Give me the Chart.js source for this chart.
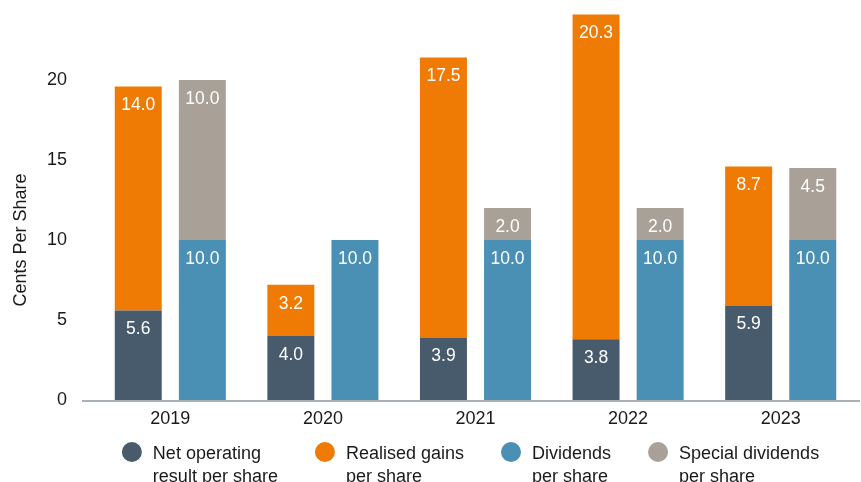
<!DOCTYPE html>
<html>
<head>
<meta charset="utf-8">
<script src="https://cdn.jsdelivr.net/npm/chart.js@4/dist/chart.umd.min.js"></script>
<style>
	html,body{margin:0;padding:0;background:#fff;overflow:hidden}
	canvas{display:block}
</style>
</head>
<body>
<canvas id="chart" width="861" height="482"></canvas>
<script>
"use strict"

var years = ["2019","2020","2021","2022","2023"]
var netOperating = [5.6,4.0,3.9,3.8,5.9]
var realisedGains = [14.0,3.2,17.5,20.3,8.7]
var dividends = [10.0,10.0,10.0,10.0,10.0]
var specialDividends = [10.0,null,2.0,2.0,4.5]
var yTicks = [0,5,10,15,20]

var seriesNames = [
	["Net operating","result per share"],
	["Realised gains","per share"],
	["Dividends","per share"],
	["Special dividends","per share"]
]
var colors = ["#485b6d","#ef7b05","#4a8fb4","#a9a097"]
var font = 'Helvetica, Arial, "Liberation Sans", sans-serif'

// value labels inside the top of each bar
var barLabels = {
	id: "barLabels",
	afterDatasetsDraw: function(chart){
		var ctx = chart.ctx
		ctx.save()
		ctx.font = "17.5px " + font
		ctx.fillStyle = "#fff"
		ctx.textAlign = "center"
		ctx.textBaseline = "middle"
		chart.data.datasets.forEach(function(ds,i){
			chart.getDatasetMeta(i).data.forEach(function(bar,j){
				var v = ds.data[j]
				if (v == null) return
				ctx.fillText(v.toFixed(1), bar.x, bar.y + 19)
			})
		})
		ctx.restore()
	}
}

// axis line, y title and the two-line legend
var decor = {
	id: "decor",
	afterDraw: function(chart){
		var ctx = chart.ctx, area = chart.chartArea
		ctx.save()
		ctx.strokeStyle = "#a9b0b6"
		ctx.lineWidth = 2
		ctx.beginPath()
		ctx.moveTo(area.left - 12, area.bottom + 1)
		ctx.lineTo(area.right + 3, area.bottom + 1)
		ctx.stroke()

		ctx.fillStyle = "#1a1a1a"
		ctx.font = "18px " + font
		ctx.textAlign = "center"
		ctx.textBaseline = "middle"
		ctx.translate(21, 240)
		ctx.rotate(-Math.PI/2)
		ctx.fillText("Cents Per Share", 0, 0)
		ctx.restore()

		ctx.save()
		ctx.font = "18px " + font
		var items = chart.data.datasets.map(function(ds){
			var w = 0
			ds.label.forEach(function(t){ w = Math.max(w, ctx.measureText(t).width) })
			return {lines: ds.label, color: ds.backgroundColor, w: 31 + w}
		})
		var gap = 37, total = -gap
		items.forEach(function(it){ total += it.w + gap })
		var x = (area.left + area.right)/2 - 5 - total/2
		items.forEach(function(it){
			ctx.fillStyle = it.color
			ctx.beginPath()
			ctx.arc(x + 10, 452, 10, 0, Math.PI*2)
			ctx.fill()
			ctx.fillStyle = "#1a1a1a"
			ctx.textAlign = "left"
			ctx.textBaseline = "alphabetic"
			it.lines.forEach(function(t,k){
				ctx.fillText(t, x + 31, 459 + k*23)
			})
			x += it.w + gap
		})
		ctx.restore()
	}
}

function makeSet(i, data, stack){
	return {
		label: seriesNames[i],
		data: data,
		stack: stack,
		backgroundColor: colors[i],
		borderWidth: 0,
		categoryPercentage: 0.84,
		barPercentage: 0.733
	}
}

new Chart(document.getElementById("chart"),{
	type: "bar",
	data: {
		labels: years,
		datasets: [
			makeSet(0, netOperating, "a"),
			makeSet(1, realisedGains, "a"),
			makeSet(2, dividends, "b"),
			makeSet(3, specialDividends, "b")
		]
	},
	options: {
		responsive: false,
		animation: false,
		devicePixelRatio: 1,
		layout: {padding: {top: 0, right: 4, bottom: 0, left: 0}},
		plugins: {legend: {display: false}, tooltip: {enabled: false}},
		scales: {
			x: {
				stacked: true,
				grid: {display: false, drawTicks: false},
				border: {display: false},
				ticks: {color: "#1a1a1a", font: {size: 18, family: font}, padding: 8, maxRotation: 0},
				afterFit: function(s){ s.height = 82; s.paddingLeft = 0; s.paddingRight = 0 }
			},
			y: {
				stacked: true,
				min: 0,
				max: 25,
				grid: {display: false, drawTicks: false},
				border: {display: false},
				afterBuildTicks: function(s){
					s.ticks = yTicks.map(function(v){ return {value: v} })
				},
				ticks: {color: "#1a1a1a", font: {size: 18, family: font}, padding: 27},
				afterFit: function(s){ s.width = 94; s.paddingTop = 0; s.paddingBottom = 0 }
			}
		}
	},
	plugins: [barLabels, decor]
})
</script>
</body>
</html>
